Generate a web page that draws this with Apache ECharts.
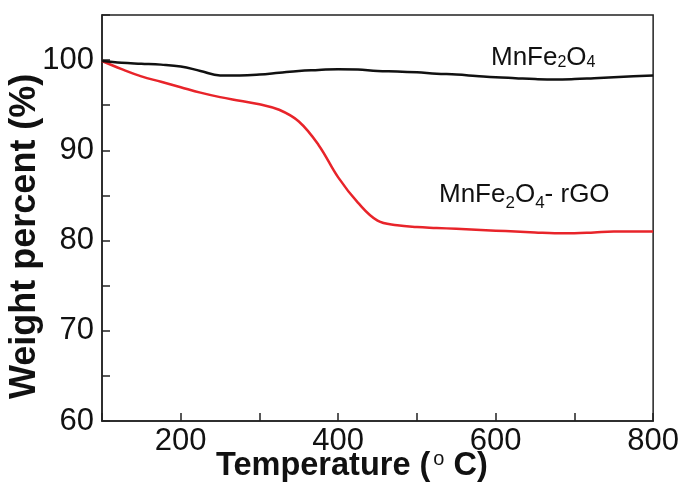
<!DOCTYPE html>
<html>
<head>
<meta charset="utf-8">
<script src="https://cdn.jsdelivr.net/npm/echarts@6/dist/echarts.min.js"></script>
<style>
  html, body { margin: 0; padding: 0; background: #fff; }
  #chart { width: 682px; height: 485px; }
</style>
</head>
<body>
<div id="chart"></div>
<script>
  // 温度 (°C)
  var temps = [100, 125, 150, 175, 200, 225, 250, 275, 300, 325, 350, 375, 400, 425, 450,
               475, 500, 525, 550, 575, 600, 625, 650, 675, 700, 725, 750, 775, 800];
  // MnFe2O4
  var pure = [99.9, 99.7, 99.6, 99.5, 99.3, 98.8, 98.3, 98.3, 98.4, 98.6, 98.8, 98.9, 99.0, 98.95, 98.8,
              98.75, 98.65, 98.5, 98.4, 98.25, 98.1, 98.0, 97.9, 97.85, 97.9, 98.0, 98.1, 98.2, 98.3];
  // MnFe2O4-rGO
  var composite = [99.9, 99.0, 98.2, 97.6, 97.0, 96.4, 95.9, 95.5, 95.1, 94.5, 93.2, 90.6, 87.0, 84.2, 82.2,
                   81.7, 81.5, 81.4, 81.3, 81.2, 81.1, 81.0, 80.9, 80.8, 80.8, 80.9, 81.0, 81.0, 81.0];

  function pairs(ys) {
    var out = [];
    for (var i = 0; i < temps.length; i++) {
      out.push([temps[i], ys[i]]);
    }
    return out;
  }

  var chart = echarts.init(document.getElementById('chart'));
  var font = 'Liberation Sans, Arial, sans-serif';
  var axisColor = '#222';

  chart.setOption({
    backgroundColor: '#fff',
    animation: false,
    grid: { left: 102, right: 27, top: 15, bottom: 64, show: true, borderColor: axisColor, borderWidth: 1.5 },
    xAxis: {
      type: 'value', min: 100, max: 800, interval: 100,
      axisLine: { lineStyle: { color: axisColor, width: 1.5 } },
      axisTick: { inside: true, length: 8, lineStyle: { color: axisColor, width: 1.5 } },
      splitLine: { show: false },
      axisLabel: {
        color: '#111', fontSize: 31, fontFamily: font, margin: 5,
        formatter: function (v) { return (v % 200 === 0) ? String(v) : ''; }
      }
    },
    yAxis: {
      type: 'value', min: 60, max: 105, interval: 5,
      axisLine: { lineStyle: { color: axisColor, width: 1.5 } },
      axisTick: { inside: true, length: 8, lineStyle: { color: axisColor, width: 1.5 } },
      splitLine: { show: false },
      axisLabel: {
        color: '#111', fontSize: 31, fontFamily: font, margin: 8,
        formatter: function (v) { return (v % 10 === 0 && v <= 100) ? String(v) : ''; }
      }
    },
    graphic: [
      {
        type: 'text', rotation: Math.PI / 2,
        x: 7, y: 399,
        style: { text: 'Weight percent (%)', font: 'bold 36px ' + font, fill: '#111' }
      },
      {
        type: 'text', left: 216, top: 449,
        style: {
          text: '{a|Temperature (}{b|o}{a| C)}',
          rich: {
            a: { fontSize: 32.5, fontWeight: 'bold', fontFamily: font, fill: '#111', lineHeight: 34, verticalAlign: 'bottom' },
            b: { fontSize: 20, fontFamily: font, fill: '#111', lineHeight: 34, verticalAlign: 'top', padding: [0, 0, 0, 3] }
          }
        }
      },
      {
        type: 'text', left: 491, top: 45,
        style: {
          text: '{a|MnFe}{s|2}{a|O}{s|4}',
          rich: {
            a: { fontSize: 26, fontFamily: font, fill: '#111', lineHeight: 30, verticalAlign: 'bottom' },
            s: { fontSize: 16, fontFamily: font, fill: '#111', lineHeight: 30, verticalAlign: 'bottom', padding: [2, 0, 0, 0] }
          }
        }
      },
      {
        type: 'text', left: 439, top: 180,
        style: {
          text: '{a|MnFe}{s|2}{a|O}{s|4}{a|- rGO}',
          rich: {
            a: { fontSize: 26, fontFamily: font, fill: '#111', lineHeight: 30, verticalAlign: 'top' },
            s: { fontSize: 17, fontFamily: font, fill: '#111', lineHeight: 30, verticalAlign: 'bottom', padding: [15, 0, 0, 0] }
          }
        }
      }
    ],
    series: [
      {
        name: 'MnFe2O4', type: 'line', data: pairs(pure), smooth: 0.4,
        showSymbol: false, lineStyle: { color: '#111', width: 2.5 }, z: 3
      },
      {
        name: 'MnFe2O4-rGO', type: 'line', data: pairs(composite), smooth: 0.4,
        showSymbol: false, lineStyle: { color: '#e8242a', width: 2.5 }, z: 2
      }
    ]
  });
</script>
</body>
</html>
